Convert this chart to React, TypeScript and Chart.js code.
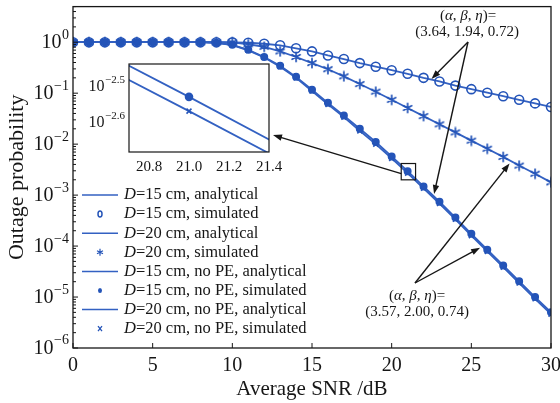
import React, { useEffect, useRef } from "react";
import { Chart, registerables } from "chart.js";
Chart.register(...registerables);

// ---------------- data ----------------
const snrDb = [0, 1, 2, 3, 4, 5, 6, 7, 8, 9, 10, 11, 12, 13, 14, 15, 16, 17, 18, 19, 20, 21, 22, 23, 24, 25, 26, 27, 28, 29, 30];

// D = 15 cm, with pointing error (open circles)
const outD15 = [1, 1, 1, 1, 1, 1, 1, 1, 1, 0.999, 0.995, 0.977, 0.933, 0.871, 0.759, 0.661, 0.55, 0.468, 0.389, 0.331, 0.282, 0.24, 0.2, 0.17, 0.141, 0.12, 0.102, 0.0871, 0.0741, 0.0631, 0.0537];
// D = 20 cm, with pointing error (stars)
const outD20 = [1, 1, 1, 1, 1, 1, 1, 1, 1, 0.998, 0.99, 0.912, 0.813, 0.661, 0.513, 0.389, 0.295, 0.214, 0.151, 0.107, 0.0741, 0.0513, 0.0355, 0.0245, 0.017, 0.0117, 0.00813, 0.00562, 0.0038, 0.00263, 0.00178];
// D = 15 cm, no PE (filled dots)
const outD15NoPE = [1, 1, 1, 1, 1, 1, 1, 1, 1, 0.977, 0.891, 0.708, 0.513, 0.347, 0.209, 0.117, 0.0646, 0.0363, 0.02, 0.011, 0.00575, 0.00295, 0.00148, 7.41e-4, 3.63e-4, 1.74e-4, 8.51e-5, 4.17e-5, 2.04e-5, 1.0e-5, 5.01e-6];
// D = 20 cm, no PE (crosses)
const outD20NoPE = [1, 1, 1, 1, 1, 1, 1, 1, 1, 0.975, 0.881, 0.692, 0.501, 0.331, 0.2, 0.11, 0.0603, 0.0339, 0.0182, 0.01, 0.00525, 0.00269, 0.00136, 6.84e-4, 3.35e-4, 1.6e-4, 7.85e-5, 3.85e-5, 1.88e-5, 9.23e-6, 4.62e-6];

const xTickValues = [0, 5, 10, 15, 20, 25, 30];
const yDecadeExponents = [0, -1, -2, -3, -4, -5, -6];
const minorMantissas = [2, 3, 4, 5, 6, 7, 8, 9];

const insetXTickValues = [20.8, 21.0, 21.2, 21.4];
const insetYTickExponents = [-2.5, -2.6];
const insetXMin = 20.7;
const insetXMax = 21.4;
const insetYMinExp = -2.685;
const insetYMaxExp = -2.438;

const legendLabels = [
  { kind: "line", text: "=15 cm, analytical" },
  { kind: "circle", text: "=15 cm, simulated" },
  { kind: "line", text: "=20 cm, analytical" },
  { kind: "star", text: "=20 cm, simulated" },
  { kind: "line", text: "=15 cm, no PE, analytical" },
  { kind: "dot", text: "=15 cm, no PE, simulated" },
  { kind: "line", text: "=20 cm, no PE, analytical" },
  { kind: "cross", text: "=20 cm, no PE, simulated" },
];

const paramsTop = "(3.64, 1.94, 0.72)";
const paramsBottom = "(3.57, 2.00, 0.74)";

// ---------------- style ----------------
const SERIF = '"Liberation Serif", "Times New Roman", serif';
const LINE_BLUE = "#3361c2";
const MARK_BLUE = "#2454b8";
const INK = "#161616";

const pts = (arr: number[]) => snrDb.map((x, i) => ({ x, y: arr[i] }));

function makeAsterisk(): HTMLCanvasElement {
  const c = document.createElement("canvas");
  c.width = 12;
  c.height = 12;
  const g = c.getContext("2d") as CanvasRenderingContext2D;
  g.strokeStyle = MARK_BLUE;
  g.lineWidth = 1.7;
  g.lineCap = "round";
  const r = 4.6;
  g.beginPath();
  for (let k = 0; k < 3; k++) {
    const ang = Math.PI / 2 + (k * Math.PI) / 3;
    g.moveTo(6 + Math.cos(ang) * r, 6 + Math.sin(ang) * r);
    g.lineTo(6 - Math.cos(ang) * r, 6 - Math.sin(ang) * r);
  }
  g.stroke();
  return c;
}

const lineDs = (arr: number[]) => ({
  data: pts(arr),
  borderColor: LINE_BLUE,
  borderWidth: 1.8,
  pointRadius: 0,
  fill: false,
  tension: 0,
});
const markDs = (arr: number[], style: any, r: number, filled: boolean) => ({
  data: pts(arr),
  showLine: false,
  pointStyle: style,
  pointRadius: r,
  pointHoverRadius: r,
  pointBorderColor: MARK_BLUE,
  pointBackgroundColor: filled ? MARK_BLUE : "rgba(255,255,255,0)",
  pointBorderWidth: 1.6,
});

function drawRich(ctx: CanvasRenderingContext2D, segs: [string, boolean][], cx: number, cy: number, size: number) {
  let w = 0;
  for (const [t, it] of segs) {
    ctx.font = `${it ? "italic " : ""}${size}px ${SERIF}`;
    w += ctx.measureText(t).width;
  }
  let x = cx - w / 2;
  ctx.textAlign = "left";
  ctx.textBaseline = "middle";
  for (const [t, it] of segs) {
    ctx.font = `${it ? "italic " : ""}${size}px ${SERIF}`;
    ctx.fillText(t, x, cy);
    x += ctx.measureText(t).width;
  }
}

function drawArrow(ctx: CanvasRenderingContext2D, x0: number, y0: number, x1: number, y1: number) {
  const ang = Math.atan2(y1 - y0, x1 - x0);
  const L = 9, W = 3.2;
  ctx.beginPath();
  ctx.moveTo(x0, y0);
  ctx.lineTo(x1 - Math.cos(ang) * L * 0.8, y1 - Math.sin(ang) * L * 0.8);
  ctx.stroke();
  ctx.beginPath();
  ctx.moveTo(x1, y1);
  ctx.lineTo(x1 - Math.cos(ang) * L - Math.sin(ang) * W, y1 - Math.sin(ang) * L + Math.cos(ang) * W);
  ctx.lineTo(x1 - Math.cos(ang) * L + Math.sin(ang) * W, y1 - Math.sin(ang) * L - Math.cos(ang) * W);
  ctx.closePath();
  ctx.fill();
}

function drawPow10(ctx: CanvasRenderingContext2D, exp: string, right: number, cy: number, base: number, sup: number) {
  ctx.fillStyle = INK;
  ctx.textBaseline = "middle";
  ctx.textAlign = "right";
  ctx.font = `${sup}px ${SERIF}`;
  const ew = ctx.measureText(exp).width;
  ctx.fillText(exp, right, cy - base * 0.36);
  ctx.font = `${base}px ${SERIF}`;
  ctx.fillText("10", right - ew - 0.5, cy + 1);
}

function greekSegs(): [string, boolean][] {
  return [["(", false], ["α", true], [", ", false], ["β", true], [", ", false], ["η", true], [")=", false]];
}

const mainDecor = {
  id: "mainDecor",
  afterDraw(chart: any) {
    const { ctx, chartArea: a, scales } = chart;
    const x = scales.x, y = scales.y;
    ctx.save();
    // ticks
    ctx.strokeStyle = INK;
    ctx.lineWidth = 1;
    for (const e of yDecadeExponents) {
      const py = y.getPixelForValue(Math.pow(10, e));
      ctx.beginPath(); ctx.moveTo(a.left, py); ctx.lineTo(a.left + 5, py); ctx.stroke();
      for (const m of minorMantissas) {
        const v = m * Math.pow(10, e);
        if (v > y.max || v < y.min) continue;
        const p = y.getPixelForValue(v);
        ctx.beginPath(); ctx.moveTo(a.left, p); ctx.lineTo(a.left + 3, p); ctx.stroke();
      }
    }
    for (const v of xTickValues) {
      const px = x.getPixelForValue(v);
      ctx.beginPath(); ctx.moveTo(px, a.bottom); ctx.lineTo(px, a.bottom - 5); ctx.stroke();
    }
    // frame
    ctx.lineWidth = 1.3;
    ctx.strokeStyle = INK;
    ctx.strokeRect(a.left, a.top, a.right - a.left, a.bottom - a.top);
    // y tick labels
    for (const e of yDecadeExponents) {
      const py = y.getPixelForValue(Math.pow(10, e));
      drawPow10(ctx, e === 0 ? "0" : "\u2212" + Math.abs(e), a.left - 4, py, 20, 14);
    }
    // zoom box around the inset region
    const bx0 = x.getPixelForValue(20.6), bx1 = x.getPixelForValue(21.5);
    const by0 = y.getPixelForValue(Math.pow(10, -2.38)), by1 = y.getPixelForValue(Math.pow(10, -2.7));
    ctx.lineWidth = 1.2;
    ctx.strokeStyle = INK;
    ctx.strokeRect(bx0, by0, bx1 - bx0, by1 - by0);
    ctx.fillStyle = INK;
    ctx.lineWidth = 1.4;
    drawArrow(ctx, bx0, (by0 + by1) / 2 + 2, 273, 135);

    // annotations
    ctx.fillStyle = INK;
    drawRich(ctx, greekSegs(), 468, 16, 15);
    drawRich(ctx, [[paramsTop, false]], 467, 32, 15);
    drawArrow(ctx, 468, 42, x.getPixelForValue(22.5), y.getPixelForValue(0.19));
    drawArrow(ctx, 468, 42, x.getPixelForValue(22.66), y.getPixelForValue(1.05e-3));

    drawRich(ctx, greekSegs(), 417, 296, 15);
    drawRich(ctx, [[paramsBottom, false]], 417, 312, 15);
    drawArrow(ctx, 415, 283, x.getPixelForValue(27.4), y.getPixelForValue(4.17e-3));
    drawArrow(ctx, 415, 283, x.getPixelForValue(25.55), y.getPixelForValue(9.3e-5));

    // legend
    const lx0 = a.left + 9, lx1 = a.left + 45, lmx = (lx0 + lx1) / 2, tx = a.left + 51;
    legendLabels.forEach((it, i) => {
      const ry = 195 + i * 19.1;
      ctx.strokeStyle = it.kind === "line" ? LINE_BLUE : MARK_BLUE;
      ctx.fillStyle = MARK_BLUE;
      ctx.lineWidth = 1.5;
      if (it.kind === "line") {
        ctx.beginPath(); ctx.moveTo(lx0, ry); ctx.lineTo(lx1, ry); ctx.stroke();
      } else if (it.kind === "circle") {
        ctx.beginPath(); ctx.ellipse(lmx, ry, 2, 3, 0, 0, Math.PI * 2); ctx.stroke();
      } else if (it.kind === "dot") {
        ctx.beginPath(); ctx.ellipse(lmx, ry, 2, 2.5, 0, 0, Math.PI * 2); ctx.fill();
      } else if (it.kind === "star") {
        ctx.lineWidth = 1.2;
        ctx.beginPath();
        ctx.moveTo(lmx, ry - 3.5); ctx.lineTo(lmx, ry + 3.5);
        ctx.moveTo(lmx - 3, ry - 1.5); ctx.lineTo(lmx + 3, ry + 1.5);
        ctx.moveTo(lmx - 3, ry + 1.5); ctx.lineTo(lmx + 3, ry - 1.5);
        ctx.stroke();
      } else if (it.kind === "cross") {
        ctx.lineWidth = 1.3;
        ctx.beginPath();
        ctx.moveTo(lmx - 2, ry - 2.5); ctx.lineTo(lmx + 2, ry + 2.5);
        ctx.moveTo(lmx - 2, ry + 2.5); ctx.lineTo(lmx + 2, ry - 2.5);
        ctx.stroke();
      }
      ctx.fillStyle = INK;
      ctx.textAlign = "left";
      ctx.textBaseline = "middle";
      ctx.font = `italic 16.5px ${SERIF}`;
      ctx.fillText("D", tx, ry);
      const dw = ctx.measureText("D").width;
      ctx.font = `16.5px ${SERIF}`;
      ctx.fillText(it.text, tx + dw, ry);
    });
    ctx.restore();
  },
};

const insetDecor = {
  id: "insetDecor",
  afterDraw(chart: any) {
    const { ctx, chartArea: a, scales } = chart;
    const y = scales.y;
    ctx.save();
    ctx.lineWidth = 1.2;
    ctx.strokeStyle = INK;
    ctx.strokeRect(a.left, a.top, a.right - a.left, a.bottom - a.top);
    for (const e of insetYTickExponents) {
      const py = y.getPixelForValue(Math.pow(10, e));
      drawPow10(ctx, "\u2212" + Math.abs(e).toFixed(1), a.left - 4, py, 16, 11);
    }
    ctx.restore();
  },
};

export default function App() {
  const mainRef = useRef<HTMLCanvasElement>(null);
  const insetRef = useRef<HTMLCanvasElement>(null);

  useEffect(() => {
    document.body.style.margin = "0";
    const asterisk = makeAsterisk();
    const main = new Chart(mainRef.current as HTMLCanvasElement, {
      type: "line",
      data: {
        datasets: [
          markDs(outD15, "circle", 4.5, false),
          markDs(outD20, asterisk, 5, false),
          markDs(outD15NoPE, "circle", 3.2, true),
          markDs(outD20NoPE, "crossRot", 3.5, false),
          lineDs(outD15),
          lineDs(outD20),
          lineDs(outD15NoPE),
          lineDs(outD20NoPE),
        ] as any,
      },
      options: {
        animation: false,
        responsive: false,
        maintainAspectRatio: false,
        layout: { padding: { top: 4, right: 9, left: 0, bottom: 0 } },
        plugins: { legend: { display: false }, tooltip: { enabled: false } },
        scales: {
          x: {
            type: "linear",
            min: 0,
            max: 30,
            afterBuildTicks: (s: any) => {
              s.ticks = xTickValues.map((v) => ({ value: v }));
            },
            afterFit: (s: any) => {
              s.height = 55;
              s.paddingLeft = 0;
              s.paddingRight = 0;
            },
            ticks: {
              autoSkip: false,
              maxRotation: 0,
              padding: 6,
              color: INK,
              font: { family: SERIF, size: 20 },
              callback: (v: any) => String(v),
            },
            grid: { display: false, drawTicks: false },
            border: { display: false },
            title: {
              display: true,
              text: "Average SNR /dB",
              color: INK,
              font: { family: SERIF, size: 21 },
              padding: { top: 0, bottom: 1 },
            },
          },
          y: {
            type: "logarithmic",
            min: 1e-6,
            max: 5,
            afterFit: (s: any) => {
              s.width = 73;
              s.paddingTop = 0;
              s.paddingBottom = 0;
            },
            ticks: { display: false },
            grid: { display: false, drawTicks: false },
            border: { display: false },
            title: {
              display: true,
              text: "Outage probability",
              color: INK,
              font: { family: SERIF, size: 22 },
              padding: { top: 4, bottom: 0 },
            },
          },
        },
      } as any,
      plugins: [mainDecor],
    });

    const inset = new Chart(insetRef.current as HTMLCanvasElement, {
      type: "line",
      data: {
        datasets: [
          markDs(outD15NoPE, "circle", 3.5, true),
          markDs(outD20NoPE, "crossRot", 3.5, false),
          lineDs(outD15NoPE),
          lineDs(outD20NoPE),
        ] as any,
      },
      options: {
        animation: false,
        responsive: false,
        maintainAspectRatio: false,
        layout: { padding: { top: 6, right: 16, left: 0, bottom: 0 } },
        plugins: { legend: { display: false }, tooltip: { enabled: false } },
        scales: {
          x: {
            type: "linear",
            min: insetXMin,
            max: insetXMax,
            afterBuildTicks: (s: any) => {
              s.ticks = insetXTickValues.map((v) => ({ value: v }));
            },
            afterFit: (s: any) => {
              s.height = 30;
              s.paddingLeft = 0;
              s.paddingRight = 0;
            },
            ticks: {
              autoSkip: false,
              maxRotation: 0,
              padding: 6,
              color: INK,
              font: { family: SERIF, size: 15 },
              callback: (v: any) => Number(v).toFixed(1),
            },
            grid: { display: false, drawTicks: false },
            border: { display: false },
          },
          y: {
            type: "logarithmic",
            min: Math.pow(10, insetYMinExp),
            max: Math.pow(10, insetYMaxExp),
            afterFit: (s: any) => {
              s.width = 44;
            },
            ticks: { display: false },
            grid: { display: false, drawTicks: false },
            border: { display: false },
          },
        },
      } as any,
      plugins: [insetDecor],
    });

    return () => {
      main.destroy();
      inset.destroy();
    };
  }, []);

  return (
    <div style={{ position: "relative", width: 560, height: 403, background: "#fff" }}>
      <canvas ref={mainRef} width={560} height={403} style={{ width: 560, height: 403, display: "block" }} />
      <div style={{ position: "absolute", left: 85, top: 58, width: 200, height: 124 }}>
        <canvas ref={insetRef} width={200} height={124} style={{ width: 200, height: 124, display: "block" }} />
      </div>
    </div>
  );
}
